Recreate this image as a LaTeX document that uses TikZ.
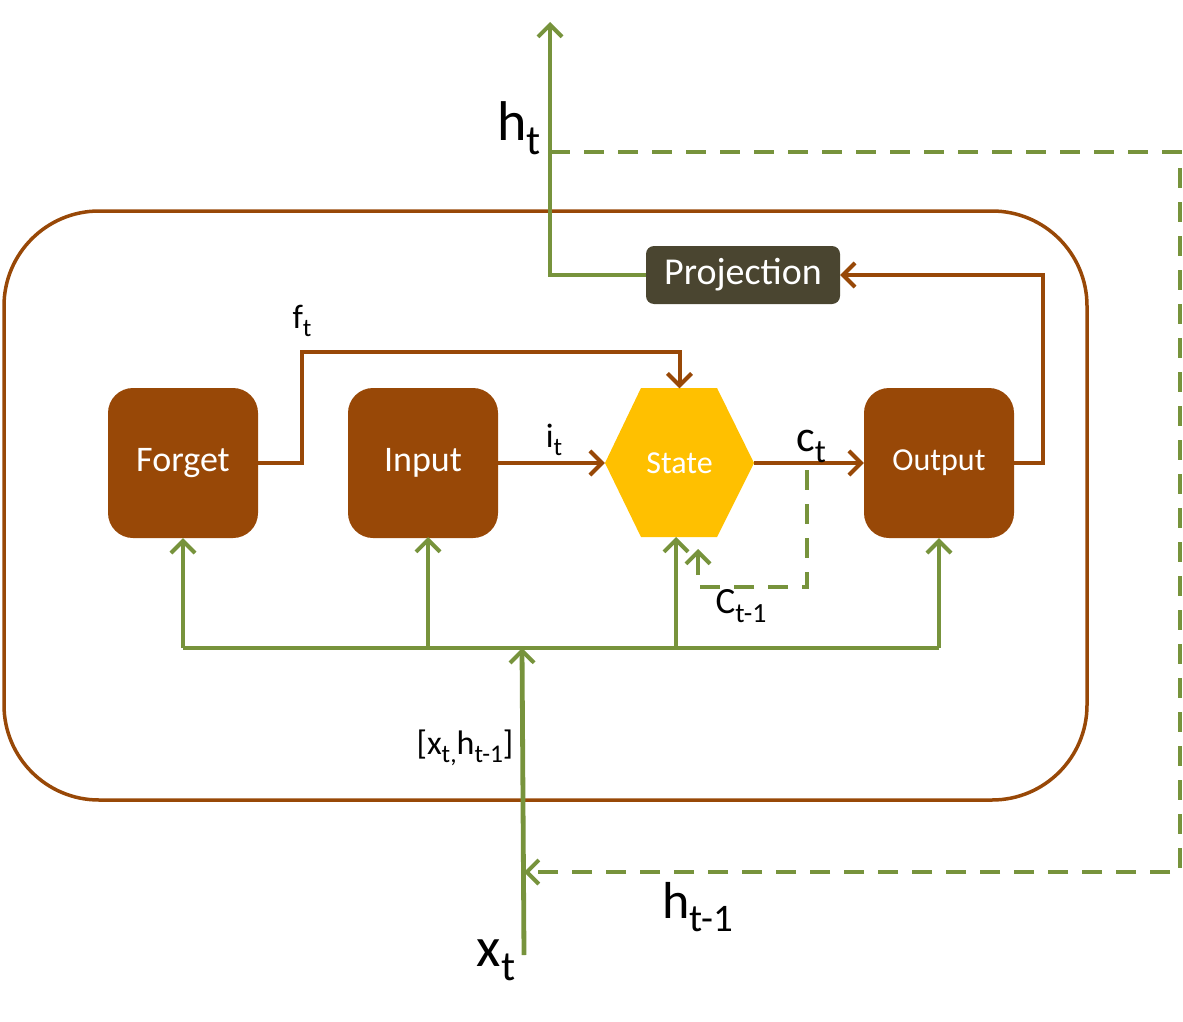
\documentclass[tikz,border=0pt]{standalone}
\usepackage{fontspec}
\usepackage{graphicx}
\setmainfont{Carlito}
\usetikzlibrary{arrows.meta}
\definecolor{brn}{HTML}{984807}
\definecolor{grn}{HTML}{77933C}
\definecolor{ylw}{HTML}{FFC000}
\definecolor{prj}{HTML}{4A4530}
\newcommand\sbs[1]{\raisebox{-0.25em}{\scalebox{0.75}{#1}}}
\tikzset{
  gate/.style={fill=brn, rounded corners=25pt, minimum width=150pt, minimum height=150pt, text=white, inner sep=0pt},
  brnline/.style={draw=brn, line width=4pt},
  grnline/.style={draw=grn, line width=4.8pt},
  tipb/.style={-{Straight Barb[length=12pt,width=24pt,line width=4pt]}},
  dsh/.style={dash pattern=on 20pt off 14pt},
  lbl/.style={inner sep=0pt, text=black},
}
\begin{document}
\begin{tikzpicture}[x=1pt,y=-1pt]
\useasboundingbox (0,0) rectangle (1183,1022);
% outer frame
\draw[draw=brn, line width=3.5pt, rounded corners=95pt] (4,211) rectangle (1087,800);
% gates
\node[gate, font=\fontsize{36}{40}\selectfont] (forget) at (183,463) {Forget};
\node[gate, font=\fontsize{36}{40}\selectfont] (input) at (423,463) {Input};
\node[gate, font=\fontsize{32}{36}\selectfont] (output) at (939,463) {Output};
% state hexagon
\fill[ylw] (605,463) -- (641,388) -- (717,388) -- (754,463) -- (717,537) -- (641,537) -- cycle;
\node[minimum width=149pt, minimum height=149pt, inner sep=0pt, text=white, font=\fontsize{32}{36}\selectfont] (state) at (679.5,463) {State};
% projection
\node[fill=prj, rounded corners=8pt, minimum width=194pt, minimum height=58pt, inner sep=0pt, text=white, font=\fontsize{38}{42}\selectfont] (proj) at (743,275) {Projection};
% coordinates
\coordinate (htop) at (550,22);
\coordinate (hdash) at (550,152);
\coordinate (xbot) at (524,955);
\coordinate (bus) at (522,648);
\coordinate (busL) at (183,648);
\coordinate (busR) at (939,648);
\coordinate (hin) at (524,872);
% brown connectors
\draw[brnline, tipb] (forget.east) -- (302,463) -- (302,352) -| (state.north);
\draw[brnline, tipb] (input.east) -- (state.west);
\draw[brnline, tipb] (state.east) -- (output.west);
\draw[brnline, tipb] (output.east) -- (1043,463) |- (proj.east);
% green connectors
\draw[grnline, tipb] (proj.west) -| (htop);
\draw[grnline, dsh, tipb] (hdash) -- (1180,152) -- (1180,872) -- (hin);
\draw[grnline, tipb] (xbot) -- (bus);
\draw[grnline] (busL) -- (busR);
\draw[grnline, tipb] (busL) -- (forget.south);
\draw[grnline, tipb] (428,648) -- (428,537);
\draw[grnline, tipb] (676,648) -- (676,537);
\draw[grnline, tipb] (busR) -- (output.south);
\draw[grnline, dsh, line width=4pt, tipb] (807,470) -- (807,587) -- (698,587) -- (698,549);
% labels
\node[lbl, font=\fontsize{56}{60}\selectfont] (lht) at (519,128) {h\sbs{t}};
\node[lbl, font=\fontsize{56}{60}\selectfont] (lxt) at (496,960) {x\sbs{t}};
\node[lbl, font=\fontsize{52}{56}\selectfont] (lhtm) at (698,907) {h\sbs{t-1}};
\node[lbl, font=\fontsize{34}{40}\selectfont] (lxh) at (465,748) {[x\sbs{t,}h\sbs{t-1}]};
\node[lbl, font=\fontsize{37}{40}\selectfont] (lct1) at (741,606) {C\sbs{t-1}};
\node[lbl, font=\fontsize{44}{46}\selectfont] (lct) at (811,446) {c\sbs{t}};
\node[lbl, font=\fontsize{34}{36}\selectfont] (lit) at (554,440) {i\sbs{t}};
\node[lbl, font=\fontsize{34}{36}\selectfont] (lft) at (302,321) {f\sbs{t}};
\end{tikzpicture}
\end{document}
